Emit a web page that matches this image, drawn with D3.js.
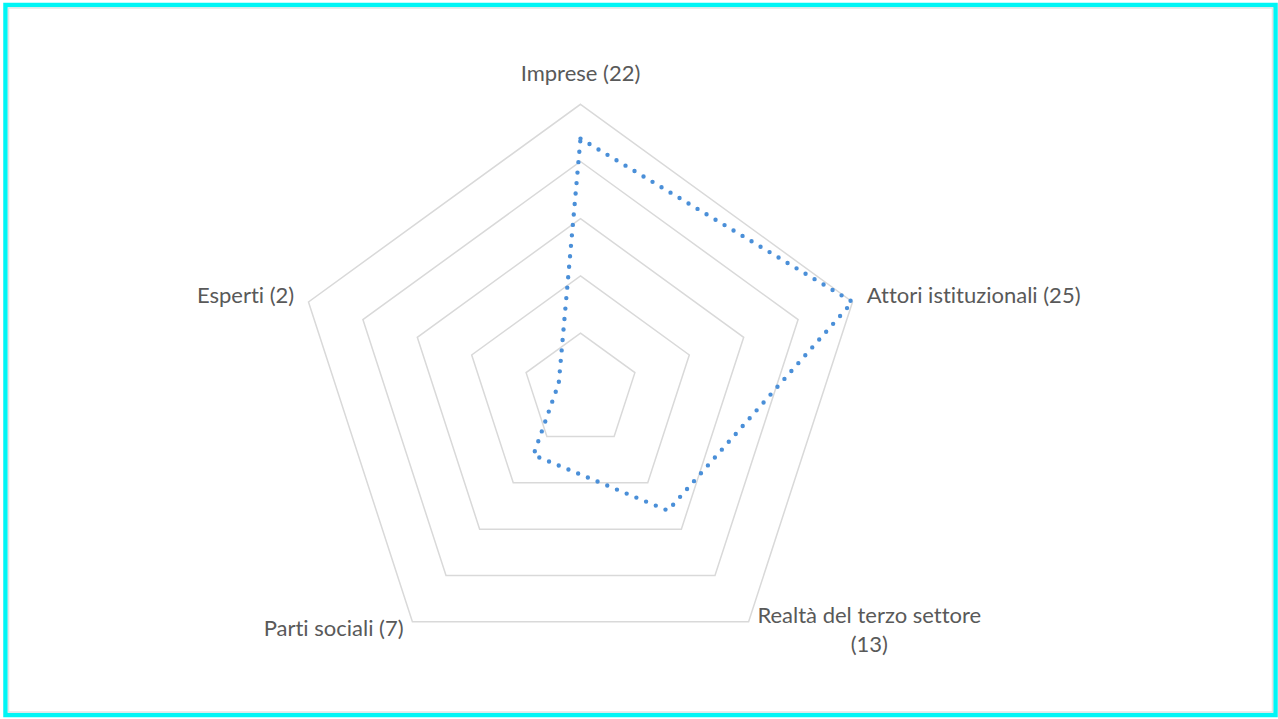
<!DOCTYPE html>
<html>
<head>
<meta charset="utf-8">
<script src="https://cdn.jsdelivr.net/npm/d3@7"></script>
<style>
  html, body { margin: 0; padding: 0; background: #fff; }
  svg { display: block; }
  text { font-variant-ligatures: none; font-feature-settings: "liga" 0, "clig" 0; }
</style>
</head>
<body>
<div id="chart"></div>
<script>
// data
const categories = ['Imprese', 'Attori istituzionali', 'Realtà del terzo settore', 'Parti sociali', 'Esperti'];
const values = [22, 25, 13, 7, 2];
const gridLevels = [5, 10, 15, 20, 25];
// label lines (long one wraps in two)
const labelLines = [
  ['Imprese (22)'],
  ['Attori istituzionali (25)'],
  ['Realtà del terzo settore', '(13)'],
  ['Parti sociali (7)'],
  ['Esperti (2)']
];

const width = 1278, height = 719;
const cx = 580.5, cy = 390.3, R = 286;

const svg = d3.select('#chart')
  .append('svg')
  .attr('width', width)
  .attr('height', height);

// frame
svg.append('rect')
  .attr('x', 5.5).attr('y', 5)
  .attr('width', width - 8).attr('height', height - 9)
  .attr('fill', '#fff')
  .attr('stroke', '#00f5f5')
  .attr('stroke-width', 4.5);
svg.append('rect')
  .attr('x', 8.5).attr('y', 8)
  .attr('width', width - 14).attr('height', height - 15)
  .attr('fill', 'none')
  .attr('stroke', '#e3e3e3')
  .attr('stroke-width', 1.5);

const r = d3.scaleLinear().domain([0, d3.max(gridLevels)]).range([0, R]);
const angle = d3.scalePoint().domain(categories).range([0, 2 * Math.PI * (categories.length - 1) / categories.length]);

const pt = (cat, v) => {
  const a = angle(cat);
  return [cx + r(v) * Math.sin(a), cy - r(v) * Math.cos(a)];
};

const g = svg.append('g');

// grid pentagons
g.selectAll('path.grid')
  .data(gridLevels)
  .join('path')
  .attr('class', 'grid')
  .attr('d', lv => d3.line()(categories.map(c => pt(c, lv))) + 'Z')
  .attr('fill', 'none')
  .attr('stroke', '#d9d9d9')
  .attr('stroke-width', 1.5);

// data line
g.append('path')
  .datum(values)
  .attr('d', d => d3.line()(categories.map((c, i) => pt(c, d[i]))) + 'Z')
  .attr('fill', 'none')
  .attr('stroke', '#4a8fd8')
  .attr('stroke-width', 4.4)
  .attr('stroke-linecap', 'round')
  .attr('stroke-dasharray', '0 10.5');

// labels
const fontFam = 'Lato, "Liberation Sans", sans-serif';
const fontSize = 22;
const lineH = 29;
categories.forEach((c, i) => {
  const a = angle(c);
  const s = Math.sin(a), co = Math.cos(a);
  let x = cx + (R + 15) * s;
  let y = cy - (R + 15) * co;
  let anchor = s > 0.1 ? 'start' : (s < -0.1 ? 'end' : 'middle');
  if (anchor === 'middle') y -= 14;
  if (co < -0.5) y = cy + r(25) * 0.809 + 9;
  const lines = labelLines[i];
  const t = svg.append('text')
    .attr('font-family', fontFam)
    .attr('font-size', fontSize)
    .attr('fill', '#595959')
    .attr('dominant-baseline', 'middle');
  if (lines.length === 1) {
    t.attr('x', x).attr('y', y).attr('text-anchor', anchor).text(lines[0]);
  } else {
    // measure widest line, center block starting at x
    const tmp = svg.append('text')
      .attr('font-family', fontFam)
      .attr('font-size', fontSize)
      .text(lines[0]);
    const w = tmp.node().getComputedTextLength();
    tmp.remove();
    const mid = x + w / 2;
    lines.forEach((ln, k) => {
      t.append('tspan')
        .attr('x', mid)
        .attr('y', y - 14 + k * lineH)
        .attr('text-anchor', 'middle')
        .text(ln);
    });
  }
});
</script>
</body>
</html>
